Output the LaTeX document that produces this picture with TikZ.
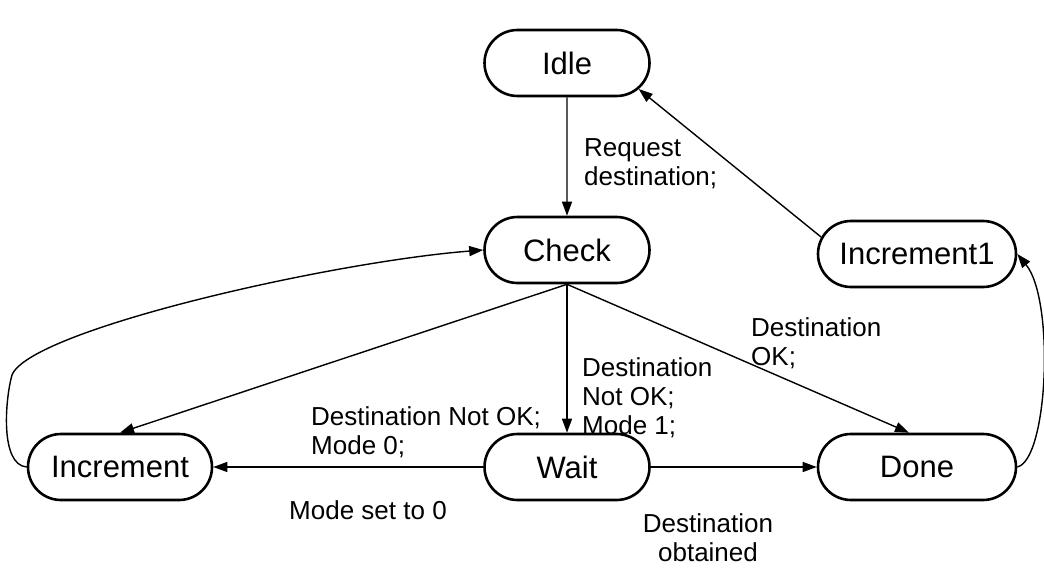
\documentclass[tikz,border=0pt]{standalone}
\usepackage{fontspec}
\setmainfont{Liberation Sans}
\usetikzlibrary{arrows.meta,shapes.misc}

\begin{document}
\begin{tikzpicture}[x=1pt,y=-1pt,
  state/.style={draw,rounded rectangle,line width=2.6pt,minimum height=66pt,inner sep=0pt,font=\fontsize{31}{34}\selectfont},
  trans/.style={line width=1.4pt,-{Triangle[length=14pt,width=10pt]}},
  lbl/.style={inner sep=0pt,align=left,font=\fontsize{26}{29}\selectfont}]
  \useasboundingbox (0,0) rectangle (1044,569);
  \node[state,minimum width=165pt] (idle) at (567,63) {Idle};
  \node[state,minimum width=165pt] (check) at (567,250) {Check};
  \node[state,minimum width=198pt] (inc1) at (917,254) {Increment1};
  \node[state,minimum width=184pt] (inc) at (120,467) {Increment};
  \node[state,minimum width=165pt] (wait) at (567,467) {Wait};
  \node[state,minimum width=198pt] (done) at (917,467) {Done};
  \draw[trans] (idle) -- (check);
  \draw[trans] (inc1.170) -- (idle.-20);
  \draw[trans] (done.east) .. controls (1048,460) and (1055,300) .. (inc1.east);
  \draw[trans] (inc.west) .. controls (0,465) and (5,400) .. (12,375) .. controls (30,330) and (330,262) .. (check.west);
  \draw[trans] (check.south) -- (inc.north);
  \draw[trans] (check.south) -- (wait.north);
  \draw[trans] (check.south) -- ([xshift=-8pt]done.north);
  \draw[trans] (wait.west) -- (inc.east);
  \draw[trans] (wait.east) -- (done.west);
  \node[lbl,anchor=west] (lreq) at (584,164) {Request\\destination;};
  \node[lbl,anchor=west] (lmode0) at (311,432) {Destination Not OK;\\Mode 0;};
  \node[lbl,anchor=west] (lmode1) at (582,398) {Destination\\Not OK;\\Mode 1;};
  \node[lbl,anchor=west] (lok) at (751,343) {Destination\\OK;};
  \node[lbl,anchor=west] (lset) at (289,510) {Mode set to 0};
  \node[lbl,align=center] (lobt) at (708,538) {Destination\\obtained};
\end{tikzpicture}
\end{document}
